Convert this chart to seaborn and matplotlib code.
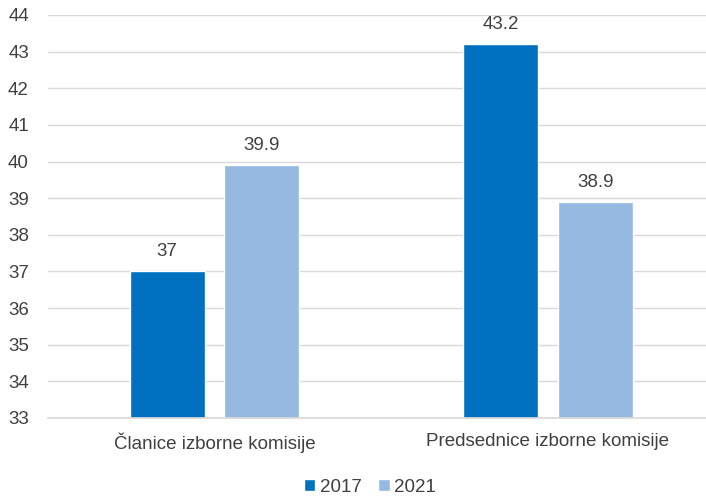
import matplotlib
matplotlib.use("Agg")
import matplotlib.pyplot as plt
import seaborn as sns
import pandas as pd

categories = ["Članice izborne komisije", "Predsednice izborne komisije"]
years = ["2017", "2021"]
values_2017 = [37, 43.2]
values_2021 = [39.9, 38.9]
value_labels_2017 = ["37", "43.2"]
value_labels_2021 = ["39.9", "38.9"]

df = pd.DataFrame({
    "cat": categories * 2,
    "year": [years[0]] * 2 + [years[1]] * 2,
    "val": values_2017 + values_2021,
})

sns.set_theme(style="white")
plt.rcParams['font.family'] = ['Liberation Sans', 'DejaVu Sans']

fig = plt.figure(figsize=(7.06, 4.96), dpi=100)
ax = fig.add_axes([47.75/706, 1-418/496, 667/706, 403/496])

palette = {"2017": "#0070C0", "2021": "#95B9E0"}
sns.barplot(data=df, x="cat", y="val", hue="year", palette=palette,
            width=0.567, gap=0.205, ax=ax, saturation=1)

ax.set_ylim(33, 44)
ax.set_yticks(range(33, 45))
ax.yaxis.grid(True, color="#D9D9D9", linewidth=1)
ax.set_axisbelow(True)
for s in ["top", "right", "left"]:
    ax.spines[s].set_visible(False)
ax.spines["bottom"].set_color("#D9D9D9")
txt = "#404040"
fs = 13.5
ax.tick_params(axis="y", length=0, labelsize=fs, colors=txt, pad=13.5)
ax.tick_params(axis="x", length=0, labelsize=fs, colors=txt, pad=10.5)
ax.set_xlabel("")
ax.set_ylabel("")

for cont, labs in zip(ax.containers, [value_labels_2017, value_labels_2021]):
    ax.bar_label(cont, labels=labs, padding=8, fontsize=fs, color=txt)

leg = ax.legend(loc="center", bbox_to_anchor=((370 - 47.75) / 667, -69 / 403), ncol=2, frameon=False,
                fontsize=fs, handlelength=0.6, handleheight=0.6, handletextpad=0.25,
                columnspacing=0.9)
for t in leg.get_texts():
    t.set_color(txt)

fig.savefig("out.png", dpi=100)
